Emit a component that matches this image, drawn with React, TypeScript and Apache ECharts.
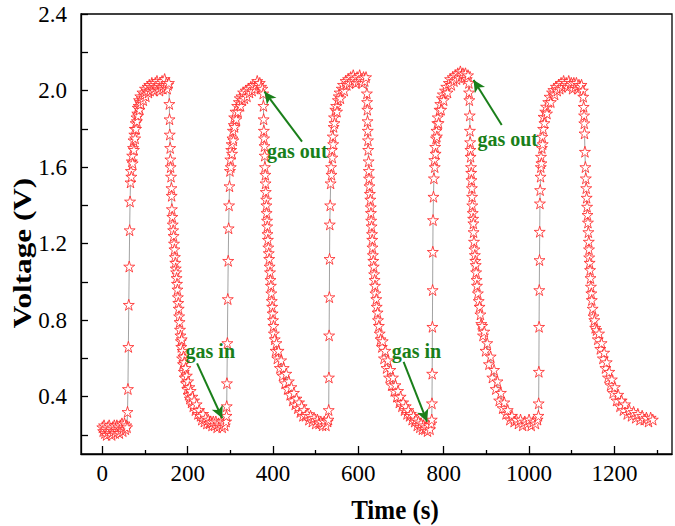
import React, { useEffect, useRef } from 'react';
import * as echarts from 'echarts';

// ---- data: [time (s), voltage (V)] ----
const baseline0 = [[0,0.24],[2,0.22],[4,0.25],[6,0.21],[8,0.23],[10,0.20],[12,0.24],[14,0.22],[16,0.25],[18,0.21],[20,0.23],[22,0.20],[24,0.24],[26,0.22],[28,0.25],[30,0.21],[32,0.23],[34,0.25],[36,0.22],[38,0.24],[40,0.21],[42,0.25],[44,0.23],[46,0.26],[48,0.22],[50,0.24],[52,0.26],[54,0.23],[56,0.25],[58,0.24]];
const pulse1 = [[59,0.32],[60,0.44],[61,0.66],[62,0.88],[63,1.08],[64,1.27],[65,1.42],[66,1.52],[67,1.58],[68,1.55],[69,1.63],[70,1.66],[71,1.62],[72,1.70],[73,1.74],[74,1.69],[75,1.77],[76,1.80],[77,1.75],[78,1.83],[79,1.80],[80,1.86],[81,1.84],[82,1.88],[83,1.91],[84,1.87],[85,1.92],[86,1.95],[87,1.90],[88,1.94],[89,1.97],[90,1.93],[92,1.96],[94,1.99],[96,1.95],[98,1.98],[100,2.01],[102,1.97],[104,2.00],[106,2.02],[108,1.99],[110,2.03],[112,2.00],[114,2.02],[116,2.04],[118,2.01],[120,2.03],[122,2.00],[124,2.04],[126,2.02],[128,2.05],[130,2.01],[132,2.03],[134,2.00],[136,2.04],[138,2.02],[140,2.05],[142,2.01],[144,2.03],[146,2.06],[148,2.02],[150,2.04],[152,2.01],[154,2.03],[156,2.04]];
const fall1 = [[157,1.93],[157.5,1.85],[158,1.77],[159,1.70],[159.5,1.64],[160,1.60],[161,1.55],[162,1.49],[162.5,1.45],[163,1.38],[164,1.34],[165,1.30],[166,1.27],[167,1.24],[168,1.20],[169,1.17],[170,1.13],[171,1.10],[172,1.07],[173,1.05],[174,1.02],[175,0.99],[176,0.96],[177,0.92],[178,0.89],[179,0.86],[180,0.82],[181,0.79],[182,0.75],[183,0.72],[184,0.69],[185,0.66],[186,0.70],[187,0.60],[188,0.64],[189,0.57],[190,0.61],[191,0.53],[192,0.58],[193,0.50],[195,0.55],[196,0.47],[198,0.51],[199,0.44],[201,0.48],[202,0.41],[204,0.45],[205,0.39],[207,0.43],[209,0.37],[211,0.40],[213,0.35],[215,0.38],[218,0.33],[221,0.36],[224,0.31],[227,0.33],[230,0.30],[233,0.28],[236,0.31],[239,0.27],[242,0.29],[245,0.26],[248,0.28],[251,0.26],[254,0.27],[257,0.25],[260,0.27],[263,0.25],[266,0.27],[269,0.24],[272,0.26],[275,0.25],[278,0.27],[281,0.24],[284,0.26],[287,0.25],[290,0.27]];
const pulse2 = [[291,0.30],[291.5,0.35],[292,0.47],[293,0.68],[294,0.91],[295,1.11],[296,1.28],[297,1.40],[298,1.50],[299,1.58],[300,1.64],[301,1.60],[302,1.69],[303,1.72],[304,1.67],[305,1.75],[306,1.79],[307,1.74],[308,1.82],[309,1.86],[310,1.81],[312,1.89],[314,1.85],[316,1.92],[318,1.89],[320,1.94],[322,1.96],[324,1.92],[326,1.97],[328,1.95],[330,1.99],[333,1.96],[336,2.00],[339,1.97],[342,2.01],[345,1.99],[348,2.02],[351,2.00],[354,2.03],[357,2.01],[360,2.03],[363,2.05],[366,2.03],[369,2.04],[372,2.02],[375,2.01]];
const fall2 = [[377,1.985],[377.5,1.92],[378,1.85],[378.5,1.79],[379,1.75],[380,1.71],[380.5,1.66],[381,1.60],[382,1.56],[382.5,1.515],[383,1.47],[384,1.43],[384.5,1.40],[385,1.36],[386,1.32],[386.5,1.29],[387,1.25],[388,1.22],[389,1.18],[390,1.15],[391,1.12],[392,1.08],[393,1.05],[394,1.01],[395,0.98],[396,0.94],[397,0.90],[398,0.87],[399,0.835],[400,0.80],[401,0.77],[402,0.73],[404,0.70],[406,0.64],[408,0.68],[410,0.60],[413,0.64],[416,0.55],[419,0.59],[422,0.51],[425,0.55],[428,0.47],[431,0.52],[434,0.44],[437,0.48],[440,0.41],[443,0.45],[446,0.38],[449,0.42],[452,0.36],[455,0.39],[458,0.34],[461,0.37],[464,0.32],[467,0.35],[470,0.30],[473,0.33],[476,0.30],[480,0.31],[484,0.28],[488,0.30],[492,0.27],[496,0.29],[500,0.26],[504,0.28],[508,0.26],[512,0.27],[516,0.25],[520,0.27],[524,0.25],[528,0.27]];
const pulse3 = [[530,0.28],[530.5,0.33],[531,0.50],[531.5,0.72],[532,0.92],[532.5,1.12],[533,1.30],[534,1.40],[535,1.515],[536,1.60],[537,1.56],[538,1.69],[539,1.65],[540,1.76],[541,1.72],[542,1.81],[543,1.86],[544,1.83],[546,1.90],[548,1.92],[550,1.89],[552,1.95],[554,1.97],[556,1.99],[558,1.96],[561,2.01],[564,2.03],[567,2.00],[570,2.05],[573,2.03],[576,2.06],[579,2.04],[582,2.07],[585,2.05],[588,2.08],[591,2.06],[594,2.04],[597,2.07],[600,2.05],[603,2.08],[606,2.06],[609,2.04],[612,2.07],[615,2.05],[618,2.07]];
const fall3 = [[620,1.985],[620.5,1.94],[621,1.90],[621.5,1.84],[622,1.79],[622.5,1.74],[623,1.69],[624,1.63],[624.5,1.58],[625,1.54],[626,1.50],[627,1.46],[628,1.43],[629,1.39],[629.5,1.36],[630,1.32],[631,1.29],[632,1.25],[632.5,1.22],[633,1.18],[634,1.14],[635,1.11],[636,1.08],[637,1.04],[638,1.01],[639,0.98],[640,0.94],[642,0.91],[643,0.87],[645,0.84],[646,0.80],[648,0.77],[650,0.73],[652,0.70],[655,0.66],[657,0.69],[660,0.60],[663,0.64],[666,0.55],[669,0.59],[672,0.50],[675,0.54],[678,0.46],[681,0.50],[684,0.43],[687,0.46],[690,0.40],[693,0.43],[696,0.37],[699,0.40],[702,0.35],[705,0.37],[708,0.33],[711,0.35],[714,0.31],[717,0.33],[720,0.30],[723,0.31],[726,0.28],[729,0.30],[732,0.27],[735,0.28],[738,0.25],[741,0.27],[744,0.24],[747,0.26],[750,0.23],[753,0.25],[756,0.23],[759,0.24],[762,0.22],[765,0.25],[768,0.23],[771,0.26]];
const pulse4 = [[772,0.28],[772.5,0.365],[773,0.52],[773.5,0.765],[774,0.957],[774.5,1.157],[775,1.323],[776,1.445],[777,1.541],[778,1.637],[779,1.60],[780,1.706],[781,1.67],[782,1.75],[783,1.79],[784,1.76],[785,1.83],[786,1.86],[788,1.83],[790,1.90],[792,1.93],[794,1.90],[796,1.96],[798,1.98],[800,1.95],[803,2.00],[806,2.02],[809,1.99],[812,2.04],[815,2.06],[818,2.03],[821,2.07],[824,2.05],[827,2.08],[830,2.06],[833,2.09],[836,2.07],[839,2.10],[842,2.08],[845,2.09],[848,2.07],[851,2.09],[854,2.06],[857,2.08]];
const fall4 = [[859,2.04],[859.5,1.99],[860,1.95],[861,1.87],[861.5,1.79],[862,1.73],[862.5,1.69],[863,1.654],[864,1.60],[864.5,1.57],[865,1.532],[866,1.49],[866.5,1.445],[867,1.40],[868,1.36],[869,1.33],[869.5,1.306],[870,1.26],[871,1.21],[872,1.17],[873,1.14],[874,1.11],[875,1.088],[876,1.05],[877,1.01],[878,0.98],[880,0.94],[882,0.90],[884,0.87],[886,0.83],[888,0.78],[890,0.77],[892,0.72],[895,0.74],[898,0.64],[902,0.68],[906,0.57],[910,0.61],[914,0.50],[918,0.54],[922,0.44],[926,0.48],[930,0.38],[934,0.42],[938,0.34],[942,0.37],[946,0.31],[950,0.33],[955,0.28],[960,0.30],[965,0.27],[970,0.28],[975,0.26],[980,0.28],[985,0.25],[990,0.27],[995,0.26],[1000,0.28],[1005,0.25],[1010,0.27],[1015,0.26],[1020,0.28]];
const pulse5 = [[1022,0.30],[1022.5,0.365],[1023,0.53],[1023.5,0.765],[1024,0.957],[1024.5,1.114],[1025,1.262],[1025.5,1.41],[1026,1.48],[1027,1.55],[1027.5,1.60],[1028,1.654],[1029,1.62],[1030,1.70],[1031,1.759],[1032,1.72],[1033,1.80],[1034,1.863],[1036,1.83],[1038,1.89],[1040,1.916],[1042,1.88],[1045,1.94],[1048,1.968],[1051,1.94],[1054,1.99],[1057,2.003],[1060,1.98],[1063,2.02],[1066,2.00],[1069,2.03],[1072,2.01],[1075,2.04],[1078,2.02],[1081,2.05],[1084,2.03],[1087,2.04],[1090,2.02],[1093,2.05],[1096,2.03],[1099,2.04],[1102,2.01],[1105,2.04],[1108,2.02],[1111,2.04],[1114,2.01],[1117,2.03],[1120,2.02],[1123,2.03],[1126,2.00]];
const fall5 = [[1127,1.968],[1128,1.915],[1129,1.87],[1129.5,1.829],[1130,1.776],[1131,1.68],[1132,1.60],[1133,1.541],[1134,1.49],[1135,1.44],[1136,1.393],[1137,1.35],[1138,1.31],[1139,1.26],[1140,1.21],[1140.5,1.17],[1141,1.128],[1142,1.10],[1143,1.062],[1144,1.02],[1145,0.975],[1146,0.94],[1147,0.905],[1149,0.86],[1151,0.82],[1153,0.80],[1155,0.76],[1158,0.748],[1161,0.70],[1164,0.73],[1167,0.65],[1170,0.68],[1173,0.60],[1176,0.63],[1179,0.55],[1182,0.58],[1185,0.50],[1188,0.53],[1191,0.46],[1194,0.49],[1197,0.42],[1201,0.45],[1205,0.38],[1209,0.41],[1213,0.35],[1217,0.38],[1221,0.33],[1225,0.36],[1230,0.31],[1235,0.33],[1240,0.30],[1245,0.32],[1250,0.29],[1255,0.31],[1260,0.28],[1265,0.30],[1270,0.28],[1275,0.29],[1280,0.27],[1285,0.29],[1290,0.28]];

const xMajorTicks = [0, 200, 400, 600, 800, 1000, 1200];
const xMinorTicks = [100, 300, 500, 700, 900, 1100, 1300];
const yTicks = [0.2, 0.4, 0.6, 0.8, 1.0, 1.2, 1.4, 1.6, 1.8, 2.0, 2.2, 2.4];
const yLabels = [0.4, 0.8, 1.2, 1.6, 2.0, 2.4];

// annotations: text, text position [t, V]; arrows: [fromT, fromV, toT, toV]
const noteTexts = ['gas in', 'gas out', 'gas in', 'gas out'];
const notePos = [[253, 0.64], [457, 1.684], [736, 0.64], [950, 1.747]];
const arrows = [
  [222, 0.574, 281, 0.287],
  [468, 1.733, 380, 1.994],
  [706, 0.582, 761, 0.269],
  [936, 1.82, 870, 2.055],
];

const STAR = 'path://M50,0L61.2,34.5L97.6,34.5L68.2,55.9L79.4,90.5L50,69.1L20.6,90.5L31.8,55.9L2.4,34.5L38.8,34.5Z';
const FONT = 'Liberation Serif';
const GREEN = '#1a7f1a';

export default function App() {
  const ref = useRef<HTMLDivElement>(null);
  useEffect(() => {
    const chart = echarts.init(ref.current!, null, { renderer: 'svg' });
    const data = [...baseline0, ...pulse1, ...fall1, ...pulse2, ...fall2, ...pulse3, ...fall3, ...pulse4, ...fall4, ...pulse5, ...fall5];
    const axisLineStyle = { color: '#000', width: 1.3 };
    chart.setOption({
      animation: false,
      backgroundColor: '#fff',
      grid: { left: 81, right: 3, top: 14, bottom: 72, show: true, borderColor: '#000', borderWidth: 1.3, backgroundColor: 'transparent' },
      xAxis: [
        {
          type: 'value', min: -50, max: 1335, position: 'bottom',
          axisLine: { show: true, onZero: false, lineStyle: axisLineStyle },
          axisTick: { show: true, inside: true, length: 8, customValues: xMajorTicks, lineStyle: axisLineStyle },
          axisLabel: { customValues: xMajorTicks, fontFamily: FONT, fontSize: 23, color: '#000', margin: 8, formatter: (v: number) => String(v) },
          splitLine: { show: false },
        },
        {
          type: 'value', min: -50, max: 1335, position: 'bottom',
          axisLine: { show: false, onZero: false },
          axisTick: { show: true, inside: true, length: 4, customValues: xMinorTicks, lineStyle: axisLineStyle },
          axisLabel: { show: false },
          splitLine: { show: false },
        },
      ],
      yAxis: {
        type: 'value', min: 0.1, max: 2.4,
        axisLine: { show: true, onZero: false, lineStyle: axisLineStyle },
        axisTick: { show: true, inside: true, length: 7, customValues: yTicks, lineStyle: axisLineStyle },
        axisLabel: { customValues: yLabels, fontFamily: FONT, fontSize: 23, color: '#000', margin: 14, formatter: (v: number) => v.toFixed(1) },
        splitLine: { show: false },
      },
      graphic: [
        { type: 'text', x: 395, y: 510, scaleY: 1.12, style: { text: 'Time (s)', fontFamily: FONT, fontWeight: 'bold', fontSize: 25, fill: '#000', align: 'center', verticalAlign: 'middle' } },
        { type: 'text', x: 22, y: 253, rotation: Math.PI / 2, scaleX: 1.2, style: { text: 'Voltage (V)', fontFamily: FONT, fontWeight: 'bold', fontSize: 26, fill: '#000', align: 'center', verticalAlign: 'middle' } },
      ],
      series: [
        {
          type: 'line',
          xAxisIndex: 0,
          data,
          symbol: STAR,
          symbolSize: 11,
          showAllSymbol: true,
          itemStyle: { color: '#fff', borderColor: '#ff1f1f', borderWidth: 0.8 },
          lineStyle: { color: '#8a8a8a', width: 0.8 },
          markLine: {
            silent: true,
            symbol: ['none', 'arrow'],
            symbolSize: [9, 12],
            label: { show: false },
            lineStyle: { color: GREEN, width: 2, type: 'solid' },
            data: arrows.map((a) => [{ coord: [a[0], a[1]] }, { coord: [a[2], a[3]] }]),
          },
          markPoint: {
            silent: true,
            symbol: 'rect',
            symbolSize: 1,
            itemStyle: { color: 'transparent' },
            data: noteTexts.map((t, i) => ({
              coord: notePos[i],
              label: { show: true, position: 'inside', formatter: t, color: GREEN, fontFamily: FONT, fontWeight: 'bold', fontSize: 20 },
            })),
          },
        },
      ],
    });
    return () => chart.dispose();
  }, []);
  return <div ref={ref} style={{ position: 'fixed', left: 0, top: 0, width: 675, height: 526, background: '#fff' }} />;
}
